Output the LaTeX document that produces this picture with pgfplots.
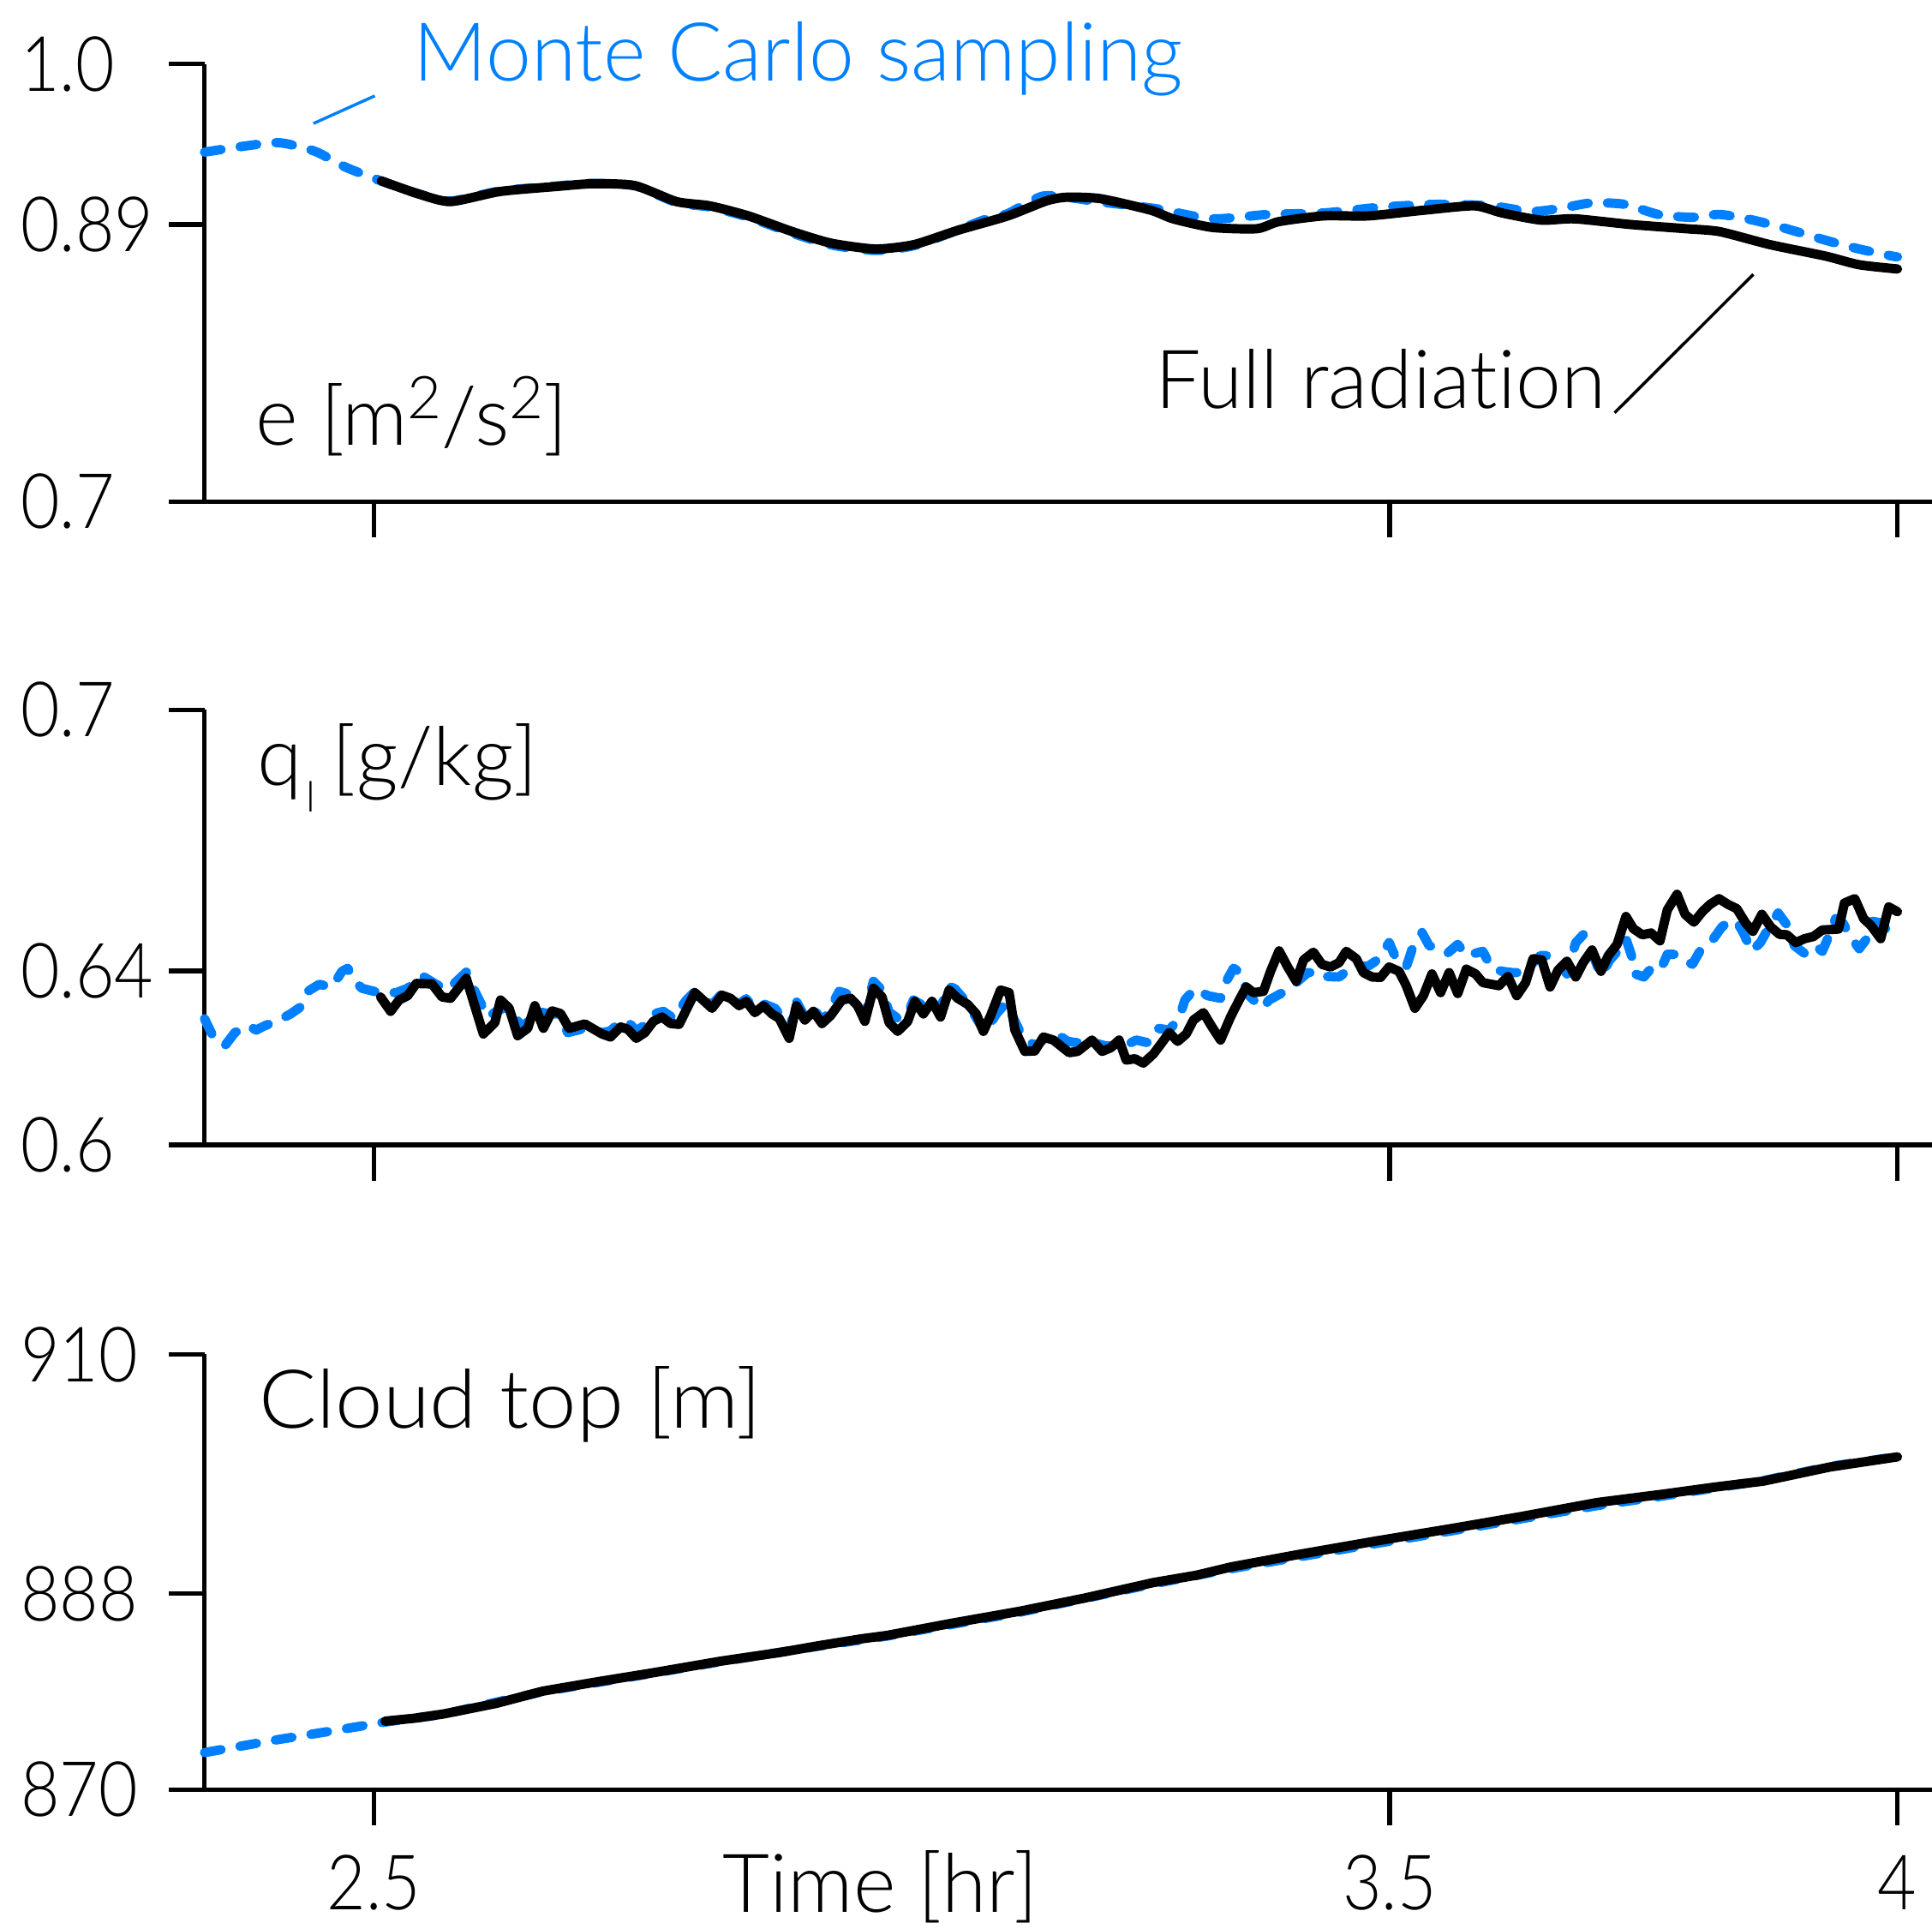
\documentclass[border=0pt]{standalone}
\usepackage{fontspec}
\IfFontExistsTF{Lato Light}{\setmainfont{Lato Light}[Ligatures=NoCommon]}{\setmainfont{Lato}[Ligatures=NoCommon]}
\usepackage{graphicx}
\usepackage{pgfplots}
\pgfplotsset{compat=1.18}
\definecolor{mcblue}{RGB}{0,128,255}
\newcommand{\sqr}{\raisebox{5.5pt}{\fontsize{12}{12}\selectfont 2}}
\newcommand{\lab}{\fontsize{16.5}{19}\selectfont}
\newcommand{\tl}[1]{\scalebox{0.88}[1]{#1}}
\pgfplotsset{
 panel/.style={
   scale only axis, width=350.5pt,
   xmin=2.3333, xmax=4.034,
   axis x line*=bottom, axis y line*=left,
   axis line style={-, line width=0.9pt, black},
   major tick style={line width=0.9pt, black},
   tick align=outside, major tick length=7.25pt,
   xtick={2.5,3.5,4},
   xticklabels={},
   tick label style={font=\fontsize{15.5}{18}\selectfont},
   yticklabel style={anchor=west, inner sep=0pt, xshift=-30.25pt},
   xticklabel style={anchor=north, inner sep=0pt, yshift=-5.9pt},
   clip=false,
 },
 fr/.style={black, line width=1.9pt, line join=round, line cap=round},
 mc/.style={mcblue, line width=1.9pt, dash pattern=on 3.4pt off 3.9pt, line cap=round, line join=round},
}
\begin{document}
\begin{tikzpicture}
\useasboundingbox (0,0) rectangle (392pt,391.25pt);
% ---------------- panel 1: e
\begin{axis}[panel, at={(41.5pt,289.5pt)}, anchor=south west, height=88.75pt,
  ymin=0.7, ymax=1.0, ytick={0.7,0.89,1.0}, yticklabels={\tl{0.7},\tl{0.89},\tl{1.0}}]
\addplot[mc, smooth, tension=0.4] coordinates {
(2.3333,0.9396) (2.3700,0.9435) (2.4067,0.9461) (2.4420,0.9402) (2.4719,0.9294)
(2.5046,0.9205) (2.5425,0.9113) (2.5752,0.9060) (2.6241,0.9130) (2.6785,0.9163)
(2.7165,0.9182) (2.7573,0.9165) (2.7980,0.9050) (2.8306,0.9020) (2.8687,0.8950)
(2.9121,0.8840) (2.9502,0.8760) (2.9938,0.8722) (3.0318,0.8755) (3.0753,0.8862)
(3.1000,0.8930) (3.1242,0.8975) (3.1606,0.9097) (3.2155,0.9054) (3.2704,0.9008)
(3.3253,0.8939) (3.3802,0.8969) (3.4351,0.8979) (3.4900,0.9018) (3.5449,0.9038)
(3.5998,0.9028) (3.6382,0.8989) (3.6657,0.9008) (3.6987,0.9048) (3.7316,0.9038)
(3.7645,0.8969) (3.7975,0.8949) (3.8250,0.8969) (3.8579,0.8930) (3.8908,0.8871)
(3.9293,0.8792) (3.9622,0.8732) (3.9951,0.8683) (4.0000,0.8678)};
\addplot[fr, smooth, tension=0.4] coordinates {
(2.5073,0.9199) (2.5425,0.9113) (2.5752,0.9057) (2.6241,0.9126) (2.6785,0.9160)
(2.7165,0.9180) (2.7573,0.9166) (2.7980,0.9057) (2.8306,0.9028) (2.8687,0.8959)
(2.9121,0.8851) (2.9502,0.8772) (2.9938,0.8732) (3.0318,0.8762) (3.0753,0.8861)
(3.1242,0.8959) (3.1622,0.9062) (3.1825,0.9087) (3.2155,0.9077) (3.2649,0.8998)
(3.2868,0.8939) (3.3253,0.8880) (3.3692,0.8871) (3.3912,0.8920) (3.4351,0.8959)
(3.4790,0.8959) (3.5339,0.8998) (3.5834,0.9028) (3.6108,0.8979) (3.6492,0.8930)
(3.6822,0.8939) (3.7371,0.8900) (3.7920,0.8871) (3.8250,0.8851) (3.8744,0.8762)
(3.9293,0.8683) (3.9622,0.8624) (4.0000,0.8595)};
\end{axis}
% ---------------- panel 2: ql
\begin{axis}[panel, at={(41.5pt,159pt)}, anchor=south west, height=88.25pt,
  ymin=0.6, ymax=0.7, ytick={0.6,0.64,0.7}, yticklabels={\tl{0.6},\tl{0.64},\tl{0.7}}]
\addplot[mc] coordinates {
(2.3333,0.6290) (2.3420,0.6248) (2.3533,0.6228) (2.3631,0.6258) (2.3758,0.6274)
(2.3842,0.6264) (2.3927,0.6274) (2.4068,0.6287) (2.4180,0.6301) (2.4278,0.6317)
(2.4349,0.6353) (2.4461,0.6369) (2.4587,0.6363) (2.4616,0.6373) (2.4686,0.6399)
(2.4743,0.6406) (2.4798,0.6379) (2.4883,0.6360) (2.5052,0.6350) (2.5220,0.6350)
(2.5333,0.6360) (2.5473,0.6389) (2.5614,0.6369) (2.5727,0.6357) (2.5910,0.6397)
(2.5994,0.6353) (2.6121,0.6294) (2.6206,0.6307) (2.6332,0.6320) (2.6459,0.6268)
(2.6599,0.6307) (2.6739,0.6301) (2.6838,0.6301) (2.6908,0.6258) (2.7077,0.6268)
(2.7246,0.6258) (2.7330,0.6262) (2.7415,0.6281) (2.7499,0.6284) (2.7583,0.6262)
(2.7668,0.6275) (2.7752,0.6301) (2.7850,0.6307) (2.7949,0.6291) (2.8076,0.6333)
(2.8160,0.6352) (2.8329,0.6322) (2.8427,0.6348) (2.8511,0.6340) (2.8596,0.6324)
(2.8666,0.6336) (2.8751,0.6310) (2.8849,0.6323) (2.8948,0.6314) (2.9018,0.6294)
(2.9089,0.6260) (2.9159,0.6330) (2.9243,0.6294) (2.9327,0.6316) (2.9412,0.6284)
(2.9496,0.6314) (2.9580,0.6353) (2.9693,0.6345) (2.9763,0.6316) (2.9834,0.6300)
(2.9918,0.6376) (3.0003,0.6356) (3.0073,0.6305) (3.0157,0.6291) (3.0256,0.6300)
(3.0312,0.6333) (3.0410,0.6320) (3.0495,0.6333) (3.0579,0.6310) (3.0649,0.6366)
(3.0720,0.6359) (3.0846,0.6325) (3.0959,0.6281) (3.1015,0.6258) (3.1128,0.6301)
(3.1226,0.6327) (3.1300,0.6290) (3.1380,0.6251) (3.1465,0.6235) (3.1521,0.6228)
(3.1606,0.6245) (3.1705,0.6258) (3.1831,0.6238) (3.1916,0.6235) (3.2085,0.6235)
(3.2197,0.6228) (3.2366,0.6225) (3.2506,0.6241) (3.2619,0.6235) (3.2717,0.6268)
(3.2830,0.6264) (3.2929,0.6291) (3.2984,0.6333) (3.3083,0.6359) (3.3210,0.6343)
(3.3336,0.6337) (3.3392,0.6376) (3.3463,0.6406) (3.3533,0.6396) (3.3604,0.6346)
(3.3744,0.6314) (3.3814,0.6333) (3.3969,0.6353) (3.4081,0.6373) (3.4194,0.6396)
(3.4334,0.6396) (3.4376,0.6387) (3.4503,0.6386) (3.4615,0.6406) (3.4798,0.6412)
(3.4897,0.6428) (3.4995,0.6465) (3.5065,0.6428) (3.5164,0.6409) (3.5219,0.6448)
(3.5319,0.6488) (3.5389,0.6458) (3.5487,0.6451) (3.5572,0.6441) (3.5671,0.6461)
(3.5758,0.6435) (3.5802,0.6438) (3.5918,0.6445) (3.6005,0.6406) (3.6107,0.6399)
(3.6208,0.6396) (3.6295,0.6396) (3.6383,0.6412) (3.6485,0.6435) (3.6572,0.6435)
(3.6659,0.6419) (3.6746,0.6393) (3.6791,0.6432) (3.6833,0.6465) (3.6906,0.6483)
(3.6964,0.6461) (3.7081,0.6389) (3.7168,0.6425) (3.7256,0.6448) (3.7327,0.6474)
(3.7386,0.6432) (3.7415,0.6393) (3.7503,0.6386) (3.7561,0.6402) (3.7662,0.6399)
(3.7734,0.6438) (3.7822,0.6438) (3.7981,0.6415) (3.8054,0.6445) (3.8170,0.6468)
(3.8272,0.6501) (3.8345,0.6514) (3.8418,0.6514) (3.8490,0.6484) (3.8563,0.6445)
(3.8650,0.6465) (3.8738,0.6501) (3.8825,0.6533) (3.8927,0.6501) (3.8985,0.6458)
(3.9086,0.6440) (3.9188,0.6458) (3.9260,0.6445) (3.9304,0.6469) (3.9391,0.6520)
(3.9464,0.6510) (3.9537,0.6478) (3.9624,0.6451) (3.9711,0.6478) (3.9755,0.6514)
(3.9842,0.6510) (3.9914,0.6488) (4.0000,0.6489)};
\addplot[fr] coordinates {
(2.5066,0.6340) (2.5165,0.6307) (2.5249,0.6333) (2.5333,0.6343) (2.5418,0.6371)
(2.5572,0.6370) (2.5671,0.6340) (2.5755,0.6337) (2.5910,0.6383) (2.6078,0.6255)
(2.6191,0.6281) (2.6247,0.6333) (2.6332,0.6314) (2.6416,0.6251) (2.6515,0.6268)
(2.6585,0.6320) (2.6669,0.6268) (2.6754,0.6308) (2.6838,0.6302) (2.6922,0.6268)
(2.7077,0.6278) (2.7246,0.6255) (2.7330,0.6248) (2.7429,0.6271) (2.7500,0.6266)
(2.7583,0.6245) (2.7668,0.6258) (2.7752,0.6284) (2.7836,0.6294) (2.7921,0.6279)
(2.8005,0.6277) (2.8090,0.6317) (2.8160,0.6350) (2.8329,0.6314) (2.8427,0.6344)
(2.8511,0.6337) (2.8596,0.6320) (2.8666,0.6330) (2.8751,0.6304) (2.8835,0.6320)
(2.8920,0.6301) (2.8990,0.6291) (2.9089,0.6245) (2.9159,0.6320) (2.9243,0.6287)
(2.9327,0.6307) (2.9412,0.6279) (2.9496,0.6297) (2.9608,0.6333) (2.9693,0.6337)
(2.9763,0.6320) (2.9834,0.6284) (2.9918,0.6360) (3.0003,0.6340) (3.0073,0.6281)
(3.0157,0.6261) (3.0256,0.6284) (3.0326,0.6330) (3.0410,0.6301) (3.0495,0.6330)
(3.0579,0.6294) (3.0663,0.6356) (3.0748,0.6337) (3.0846,0.6323) (3.0931,0.6301)
(3.1001,0.6261) (3.1072,0.6297) (3.1170,0.6356) (3.1254,0.6350) (3.1311,0.6264)
(3.1409,0.6215) (3.1507,0.6216) (3.1592,0.6248) (3.1690,0.6241) (3.1845,0.6212)
(3.1929,0.6215) (3.2070,0.6241) (3.2169,0.6215) (3.2253,0.6223) (3.2337,0.6241)
(3.2407,0.6195) (3.2492,0.6198) (3.2576,0.6188) (3.2675,0.6209) (3.2759,0.6235)
(3.2830,0.6258) (3.2914,0.6238) (3.2998,0.6255) (3.3069,0.6287) (3.3167,0.6304)
(3.3252,0.6271) (3.3336,0.6241) (3.3434,0.6294) (3.3519,0.6333) (3.3589,0.6363)
(3.3659,0.6350) (3.3758,0.6353) (3.3828,0.6399) (3.3912,0.6446) (3.3997,0.6409)
(3.4081,0.6376) (3.4152,0.6425) (3.4250,0.6443) (3.4334,0.6415) (3.4419,0.6409)
(3.4503,0.6419) (3.4573,0.6445) (3.4672,0.6428) (3.4742,0.6396) (3.4827,0.6386)
(3.4911,0.6385) (3.4995,0.6409) (3.5093,0.6399) (3.5164,0.6366) (3.5249,0.6314)
(3.5333,0.6343) (3.5417,0.6393) (3.5502,0.6350) (3.5586,0.6396) (3.5671,0.6348)
(3.5755,0.6404) (3.5846,0.6393) (3.5918,0.6373) (3.6077,0.6366) (3.6165,0.6387)
(3.6252,0.6343) (3.6339,0.6373) (3.6412,0.6428) (3.6499,0.6425) (3.6580,0.6363)
(3.6659,0.6402) (3.6746,0.6422) (3.6833,0.6386) (3.6906,0.6419) (3.6993,0.6448)
(3.7081,0.6399) (3.7153,0.6435) (3.7240,0.6461) (3.7327,0.6525) (3.7400,0.6497)
(3.7488,0.6483) (3.7575,0.6487) (3.7662,0.6469) (3.7734,0.6540) (3.7830,0.6576)
(3.7909,0.6530) (3.7996,0.6512) (3.8083,0.6537) (3.8156,0.6553) (3.8243,0.6566)
(3.8330,0.6553) (3.8418,0.6543) (3.8505,0.6510) (3.8577,0.6491) (3.8665,0.6530)
(3.8752,0.6501) (3.8839,0.6484) (3.8911,0.6483) (3.8998,0.6465) (3.9086,0.6474)
(3.9173,0.6479) (3.9260,0.6494) (3.9420,0.6496) (3.9478,0.6556) (3.9580,0.6566)
(3.9667,0.6520) (3.9740,0.6504) (3.9835,0.6474) (3.9914,0.6547) (4.0000,0.6536)};
\end{axis}
% ---------------- panel 3: cloud top
\begin{axis}[panel, at={(41.5pt,28.25pt)}, anchor=south west, height=88.25pt,
  ymin=870, ymax=910, ytick={870,888,910}, yticklabels={\tl{870},\tl{888},\tl{910}},
  xticklabels={\tl{2.5},\tl{3.5},\tl{4}}]
\addplot[mc] coordinates {
(2.3333,873.39) (2.4000,874.50) (2.4600,875.40) (2.5111,876.20) (2.5680,876.90)
(2.6663,879.00) (2.7756,880.70) (2.8411,881.75) (2.9395,883.20) (3.0050,884.10)
(3.1361,886.30) (3.2673,888.90) (3.3439,890.30) (3.4857,892.60) (3.5622,893.80)
(3.7043,896.10) (3.7698,897.00) (3.8681,898.40) (3.9336,899.70) (4.0000,900.60)};
\addplot[fr] coordinates {
(2.5111,876.28) (2.5400,876.55) (2.5680,876.93) (2.6200,877.90) (2.6663,879.04)
(2.7200,879.90) (2.7756,880.74) (2.8411,881.79) (2.9000,882.60) (2.9395,883.24)
(2.9800,883.85) (3.0050,884.16) (3.0700,885.30) (3.1361,886.39) (3.2000,887.60)
(3.2673,889.02) (3.3100,889.70) (3.3439,890.46) (3.4100,891.60) (3.4857,892.83)
(3.5622,894.01) (3.6300,895.10) (3.7043,896.38) (3.7698,897.16) (3.8200,897.80)
(3.8681,898.35) (3.9336,899.65) (4.0000,900.58)};
\end{axis}
% ---------------- labels and annotations
\node[anchor=base west, inner sep=0pt] at (51.75pt,300.9pt) {\lab e [m\sqr/s\sqr]};
\node[anchor=base west, inner sep=0pt] at (52pt,231.9pt) {\lab q\kern0.8pt\raisebox{-5.4pt}{\fontsize{8.5}{9}\selectfont l}\hspace{-1pt} [g/kg]};
\node[anchor=base west, inner sep=0pt] at (52.3pt,101.5pt) {\lab \scalebox{1.05}[1]{Cloud top [m]}};
\node[anchor=base, inner sep=0pt] at (178.6pt,3.25pt) {\lab Time [hr]};
\node[anchor=base west, inner sep=0pt, text=mcblue] at (83.7pt,374.75pt) {\lab Monte Carlo sampling};
\node[anchor=base west, inner sep=0pt] at (234.2pt,308.5pt) {\lab Full radiation};
\draw[mcblue, line width=0.6pt] (63.6pt,366.2pt) -- (76.05pt,371.8pt);
\draw[black, line width=0.6pt] (327.6pt,307.5pt) -- (355.75pt,335.6pt);
\end{tikzpicture}
\end{document}
